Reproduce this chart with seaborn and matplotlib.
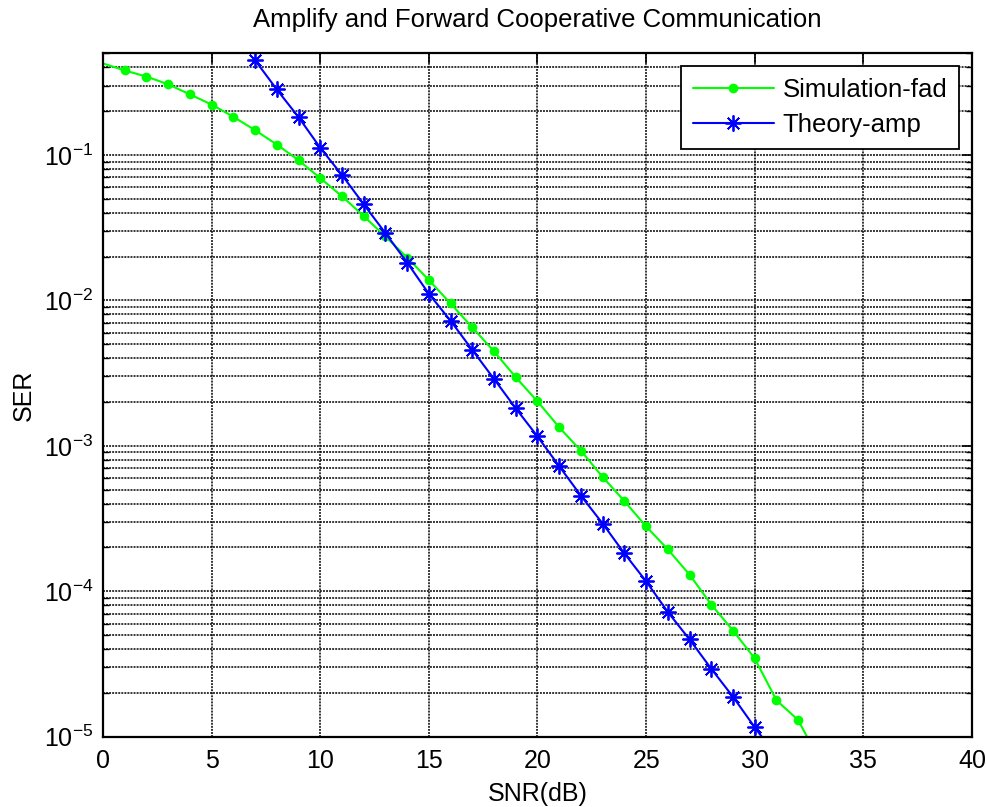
import numpy as np
import pandas as pd
import matplotlib
matplotlib.use("Agg")
import matplotlib.pyplot as plt
from matplotlib.markers import MarkerStyle
import seaborn as sns

# ---- data ----
snr_sim = list(range(0, 34))
ser_sim = [0.426, 0.381, 0.346, 0.306, 0.261, 0.222, 0.183, 0.148, 0.118, 0.092,
           0.0693, 0.052, 0.038, 0.0275, 0.0197, 0.0138, 0.00952, 0.00652, 0.00446, 0.00296,
           0.00202, 0.00134, 0.000925, 0.00061, 0.000417, 0.000279, 0.000194, 0.00013, 8.1e-5, 5.37e-5,
           3.45e-5, 1.78e-5, 1.30e-5, 6.8e-6]
snr_th = list(range(7, 32))
ser_th = [0.448, 0.282, 0.182, 0.112, 0.0728, 0.0458, 0.029, 0.0182, 0.0111, 0.00724,
          0.00456, 0.00288, 0.00181, 0.00116, 0.000724, 0.000454, 0.000292, 0.000182, 0.000117, 7.2e-5,
          4.66e-5, 2.93e-5, 1.88e-5, 1.16e-5, 7.3e-6]
labels = ["Simulation-fad", "Theory-amp"]
title = "Amplify and Forward Cooperative Communication"
xlabel = "SNR(dB)"
ylabel = "SER"
xticks = [0, 5, 10, 15, 20, 25, 30, 35, 40]

sns.set_style("white")
plt.rcParams["font.family"] = ["Liberation Sans", "DejaVu Sans"]
plt.rcParams["mathtext.fontset"] = "custom"
plt.rcParams["mathtext.rm"] = "Liberation Sans"
plt.rcParams["mathtext.it"] = "Liberation Sans:italic"
plt.rcParams["mathtext.bf"] = "Liberation Sans:bold"
plt.rcParams["text.color"] = "black"
plt.rcParams["axes.labelcolor"] = "black"
plt.rcParams["xtick.color"] = "black"
plt.rcParams["ytick.color"] = "black"
plt.rcParams["lines.scale_dashes"] = False

fig = plt.figure(figsize=(9.87, 8.07), dpi=100)
ax = fig.add_axes([103 / 987, 1 - 736.7 / 807, (972 - 103) / 987, (736.7 - 53.3) / 807])

df_sim = pd.DataFrame({"snr": snr_sim, "ser": ser_sim})
df_th = pd.DataFrame({"snr": snr_th, "ser": ser_th})

green = "#00ff00"
blue = "#0000ff"
star = MarkerStyle((8, 2, 0))

sns.lineplot(data=df_sim, x="snr", y="ser", ax=ax, color=green, lw=1.5,
             marker="o", markersize=7, markeredgewidth=0, markeredgecolor=green,
             markerfacecolor=green, markevery=slice(1, None), label=labels[0])
sns.lineplot(data=df_th, x="snr", y="ser", ax=ax, color=blue, lw=1.5,
             marker=star, markersize=11.5, markeredgewidth=1.3, markeredgecolor=blue,
             markerfacecolor=blue, label=labels[1])

ax.set_yscale("log")
ax.set_xlim(0, 40)
ax.set_ylim(1e-5, 0.5)
ax.set_xticks(xticks)
ax.set_xticklabels([str(t) for t in xticks])

dot = (0, (1.4, 0.8))
ax.grid(True, which="major", axis="x", color="black", linestyle=dot, lw=1.1)
ax.grid(True, which="both", axis="y", color="black", linestyle=dot, lw=1.1)

for s in ax.spines.values():
    s.set_visible(True)
    s.set_color("black")
    s.set_linewidth(1.6)

ax.tick_params(which="major", direction="in", length=7, width=1.2, top=True, right=True,
               labelsize=18, pad=7, colors="black")
ax.tick_params(which="minor", direction="in", length=4, width=1.0, top=False, right=True,
               left=True, bottom=False)
ax.tick_params(axis="x", which="minor", bottom=False, top=False)
ax.tick_params(axis="x", which="major", pad=9)

ax.set_title(title, fontsize=18.5, pad=19)
ax.set_xlabel(xlabel, fontsize=18, labelpad=6)
ax.set_ylabel(ylabel, fontsize=18, labelpad=6)

leg = ax.legend(loc="upper right", fancybox=False, edgecolor="black", framealpha=1,
                fontsize=18.5, handlelength=3.15, borderaxespad=0.5, borderpad=0.45,
                labelspacing=0.45, handletextpad=0.35)
leg.get_frame().set_linewidth(1.3)

fig.savefig("out.png", dpi=100)
